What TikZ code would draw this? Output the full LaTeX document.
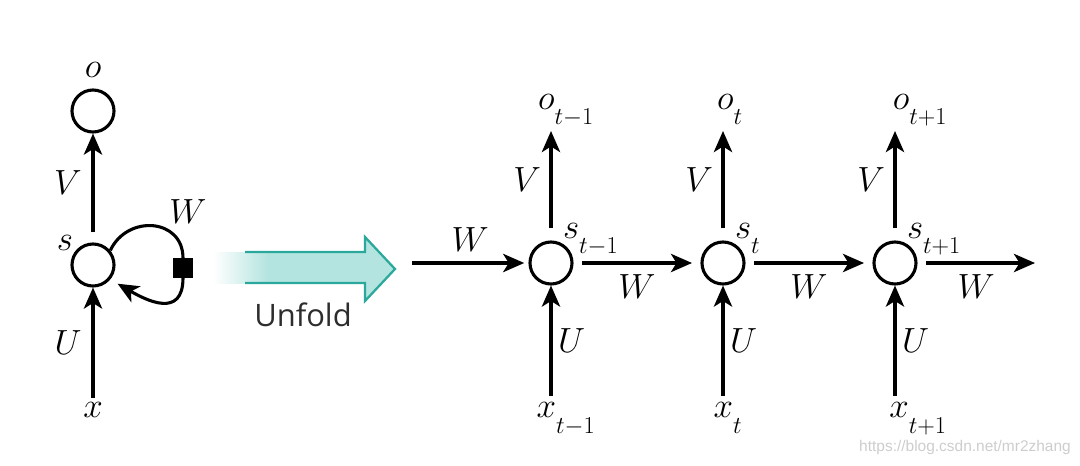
\documentclass[tikz,border=0pt]{standalone}
\usepackage{fontspec}
\usepackage{tikz}
\usetikzlibrary{positioning, arrows.meta}
\newfontfamily\unfoldfont{Open Sans}
\newfontfamily\markfont{Liberation Sans}
\definecolor{rnnteal}{RGB}{42, 168, 155}
\definecolor{rnntealfill}{RGB}{180, 228, 223}
\definecolor{rnntext}{RGB}{45, 45, 45}
\definecolor{rnnmark}{RGB}{205, 205, 205}
% subscript set lower than usual
\newcommand{\rnnsub}[2]{#1_{\smash{\raisebox{-7pt}{$\scriptstyle #2$}}}}

\begin{document}
\begin{tikzpicture}[
  x=0.025cm, y=-0.025cm,
  cell/.style={circle, draw, line width=2.2pt, minimum size=1.05cm, inner sep=0pt},
  lbl/.style={font=\fontsize{24}{28}\selectfont, inner sep=1pt},
  arr/.style={-{Stealth[length=15pt, width=13pt, inset=4pt]}, line width=2.2pt},
  sqbox/.style={rectangle, fill=black, minimum size=0.48cm, inner sep=0pt}
]
  \useasboundingbox (0,0) rectangle (1080,466);

  % Folded network (left)
  \node[cell]  (o)  at (93,111)  {};
  \node[cell]  (s)  at (93,265)  {};
  \node[lbl]   (x)  at (93,410)  {$x$};
  \node[sqbox] (sq) at (183,268) {};
  \node[lbl] at (93,70)   {$o$};
  \node[lbl] at (65,243)  {$s$};
  \node[lbl] at (188,212) {$W$};
  \draw[arr] (s.north) ++(0,-10) -- (o.south) node[lbl, midway, left=6pt] {$V$};
  \draw[arr] ([yshift=2pt]x.north) -- (s.south) node[lbl, midway, left=6pt] {$U$};
  \draw[line width=2.2pt] (s.40) to[out=65, in=90, looseness=1.4] (sq.north);
  \draw[arr, shorten >=6pt] (sq.south) to[out=-90, in=-30, looseness=1.45] (s.-40);

  % Unfold arrow
  \shade[left color=white, right color=rnntealfill] (213,252) rectangle (268,283);
  \fill[rnntealfill] (267,252) -- (365,252) -- (365,237) -- (395,269) -- (365,301)
                     -- (365,283) -- (267,283) -- cycle;
  \draw[rnnteal, line width=1.6pt, line join=miter]
       (245,252) -- (365,252) -- (365,237) -- (395,269) -- (365,301) -- (365,283) -- (245,283);
  \node[font=\unfoldfont\fontsize{22}{26}\selectfont, color=rnntext] (unfold) at (303,315) {Unfold};

  % Unfolded network (right)
  \node[cell] (s1) at (551,263) {};
  \node[cell] (s2) at (723,263) {};
  \node[cell] (s3) at (895,263) {};

  \node[lbl] (o1) at (566,105) {$\rnnsub{o}{t-1}$};
  \node[lbl] (o2) at (730,105) {$\rnnsub{o}{t}$};
  \node[lbl] (o3) at (920,105) {$\rnnsub{o}{t+1}$};

  \node[lbl] (x1) at (566,413) {$\rnnsub{x}{t-1}$};
  \node[lbl] (x2) at (728,413) {$\rnnsub{x}{t}$};
  \node[lbl] (x3) at (918,413) {$\rnnsub{x}{t+1}$};

  \node[lbl, anchor=south west, inner sep=0pt] at ([xshift=-3pt, yshift=2pt]s1.north east) {$\rnnsub{s}{t-1}$};
  \node[lbl, anchor=south west, inner sep=0pt] at ([xshift=-3pt, yshift=2pt]s2.north east) {$\rnnsub{s}{t}$};
  \node[lbl, anchor=south west, inner sep=0pt] at ([xshift=-3pt, yshift=2pt]s3.north east) {$\rnnsub{s}{t+1}$};

  \coordinate (win)  at (412,263);
  \coordinate (wout) at (1035,263);

  % Arrows
  \draw[arr] (s1.north) ++(0,-12) -- (551,131) node[lbl, midway, left=5pt] {$V$};
  \draw[arr] (s2.north) ++(0,-12) -- (723,131) node[lbl, midway, left=5pt] {$V$};
  \draw[arr] (s3.north) ++(0,-12) -- (895,131) node[lbl, midway, left=5pt] {$V$};
  \draw[arr] ([yshift=4pt]x1.north -| s1) -- (s1.south) node[lbl, midway, right=3pt] {$U$};
  \draw[arr] ([yshift=4pt]x2.north -| s2) -- (s2.south) node[lbl, midway, right=3pt] {$U$};
  \draw[arr] ([yshift=4pt]x3.north -| s3) -- (s3.south) node[lbl, midway, right=3pt] {$U$};
  \draw[arr, shorten >=3pt] (win) -- (s1.west) node[lbl, midway, above=6pt] {$W$};
  \draw[arr, shorten <=6pt, shorten >=6pt] (s1.east) -- (s2.west) node[lbl, midway, below=6pt] {$W$};
  \draw[arr, shorten <=6pt, shorten >=6pt] (s2.east) -- (s3.west) node[lbl, midway, below=6pt] {$W$};
  \draw[arr, shorten <=6pt] (s3.east) -- (wout) node[lbl, midway, below=6pt] {$W$};

  % watermark
  \node[font=\markfont\fontsize{11}{13}\selectfont, color=rnnmark] (mark) at (965,447) {https://blog.csdn.net/mr2zhang};
\end{tikzpicture}
\end{document}
